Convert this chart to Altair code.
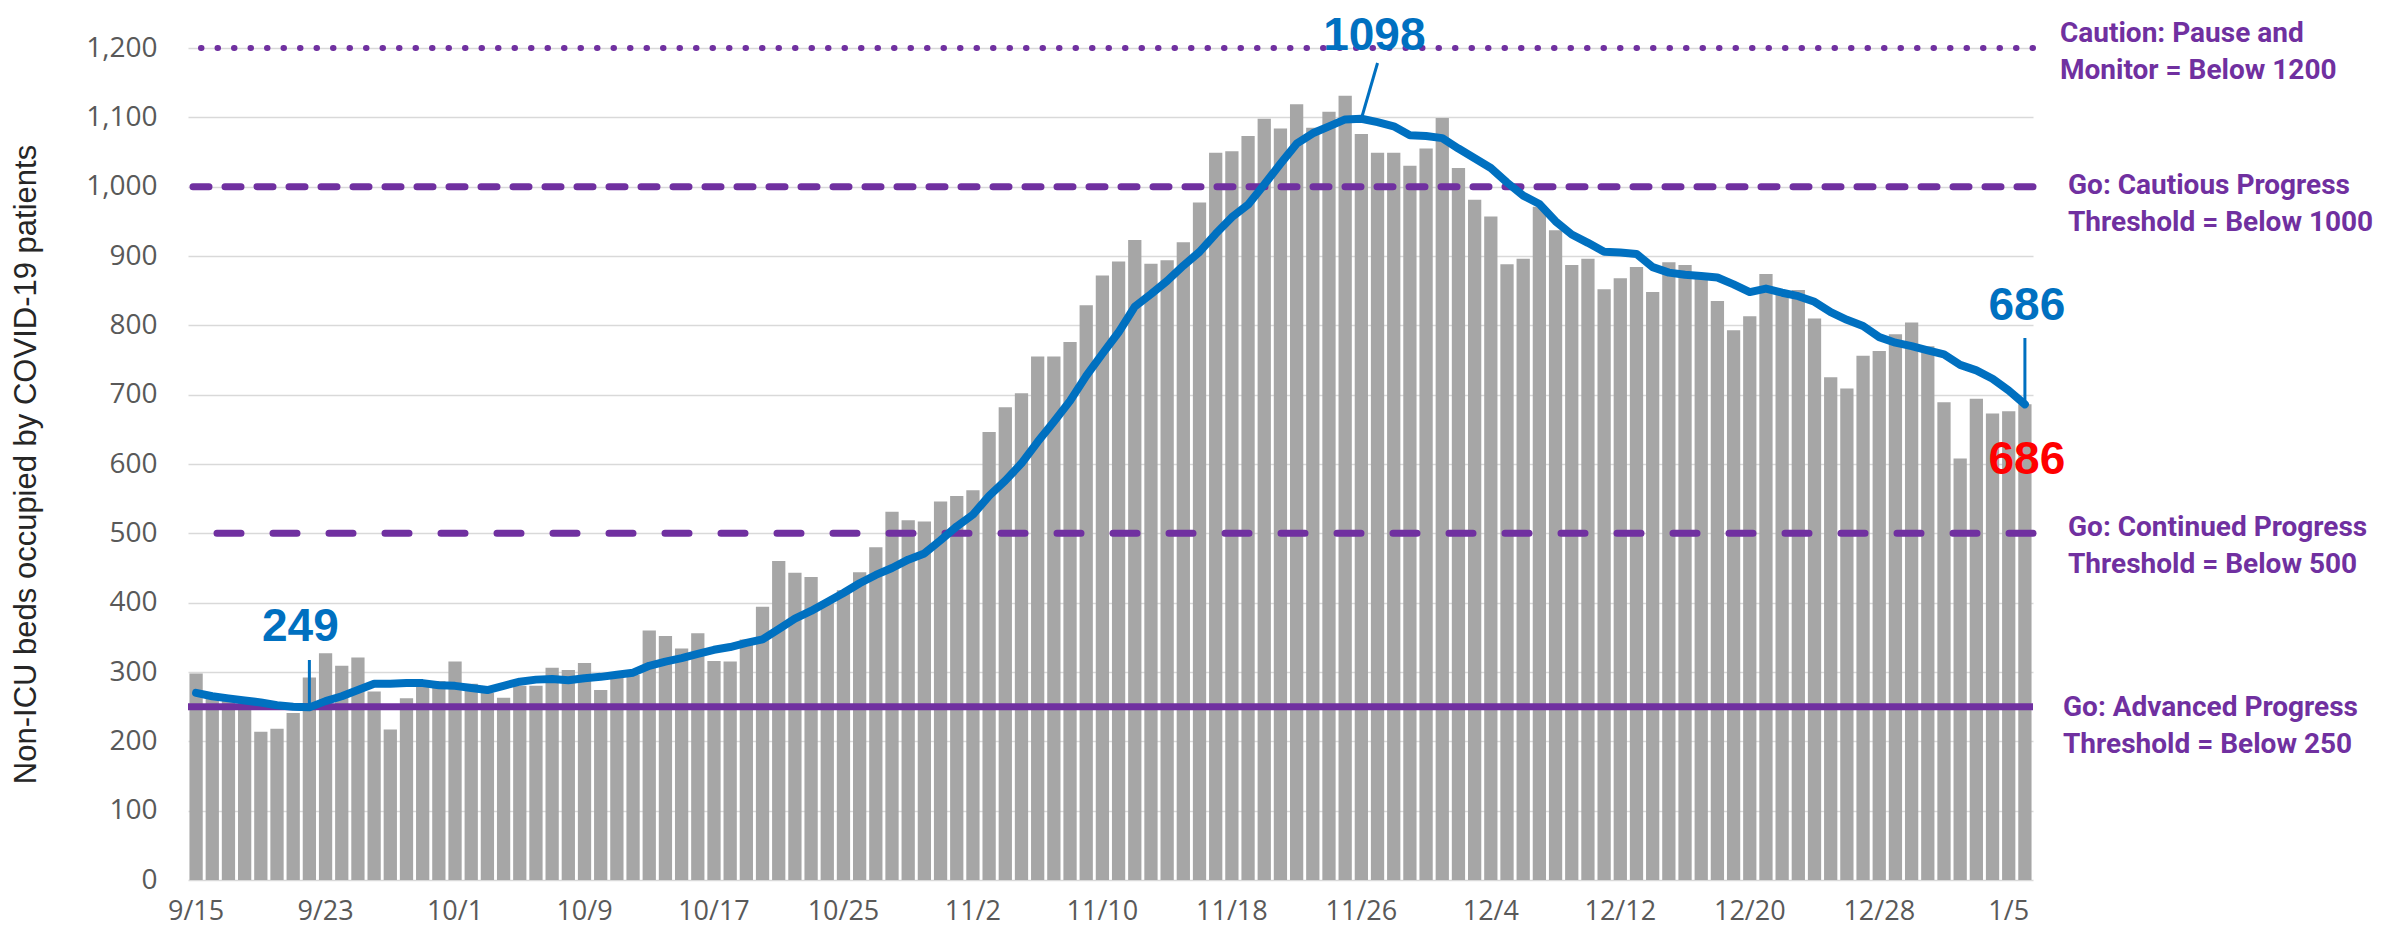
import altair as alt
import pandas as pd

# ---------------- data ----------------
START_DAY = "2020-09-15"
N_DAYS = 114
DATES = [f"{d.month}/{d.day}" for d in pd.date_range(START_DAY, periods=N_DAYS, freq="D")]

BEDS = [
    298, 265, 264, 256, 214, 218, 241, 292, 327, 309,
    321, 272, 217, 262, 286, 287, 315, 283, 270, 263,
    280, 280, 306, 303, 313, 274, 292, 296, 360, 352,
    334, 356, 316, 315, 347, 394, 460, 443, 437, 402,
    418, 444, 480, 531, 519, 517, 546, 554, 562, 646,
    682, 702, 755, 755, 776, 829, 872, 892, 923, 889,
    894, 920, 977, 1049, 1051, 1073, 1098, 1084, 1119, 1085,
    1108, 1131, 1076, 1049, 1049, 1030, 1055, 1099, 1027, 981,
    957, 888, 896, 971, 937, 887, 896, 852, 868, 884,
    848, 891, 887, 873, 835, 793, 813, 874, 849, 851,
    810, 725, 709, 756, 763, 787, 804, 770, 689, 608,
    694, 673, 676, 686,
]

AVG7 = [
    270, 265, 262, 259, 256, 252, 250, 249, 258, 265,
    274, 283, 283, 284, 284, 281, 280, 277, 274, 280,
    286, 289, 290, 288, 291, 293, 296, 299, 309, 315,
    320, 326, 332, 336, 342, 347, 362, 377, 388, 401,
    414, 428, 440, 450, 462, 471, 490, 510, 527, 554,
    576, 601, 632, 661, 691, 727, 759, 790, 827, 845,
    864, 886, 906, 932, 956, 974, 1003, 1033, 1062, 1077,
    1087, 1097, 1098, 1093, 1087, 1074, 1073, 1070, 1055, 1041,
    1027, 1006, 987, 975, 950, 931, 919, 906, 905, 903,
    884, 876, 873, 871, 869, 859, 848, 853, 847, 842,
    834, 819, 808, 799, 783, 775, 770, 764, 758, 743,
    735, 723, 706, 686,
]

X_TICKS = ["9/15", "9/23", "10/1", "10/9", "10/17", "10/25", "11/2", "11/10",
           "11/18", "11/26", "12/4", "12/12", "12/20", "12/28", "1/5"]
Y_TICKS = [0, 100, 200, 300, 400, 500, 600, 700, 800, 900, 1000, 1100, 1200]

THRESHOLDS = [1200, 1000, 500, 250]
THRESHOLD_TEXT = [
    "Caution: Pause and\nMonitor = Below 1200",
    "Go: Cautious Progress\nThreshold = Below 1000",
    "Go: Continued Progress\nThreshold = Below 500",
    "Go: Advanced Progress\nThreshold = Below 250",
]

Y_TITLE = "Non-ICU beds occupied by COVID-19 patients"

PEAK_DAY = "11/26"
PEAK_NEXT = "11/27"
LOW_DAY = "9/22"
LAST_DAY = "1/6"

# ---------------- styles ----------------
PURPLE = "#7030A0"
BLUE = "#0070C0"
GRAY = "#A6A6A6"
GRID = "#D9D9D9"

df = pd.DataFrame({"date": DATES, "beds": BEDS, "avg": AVG7})
thr = pd.DataFrame({"value": THRESHOLDS, "text": THRESHOLD_TEXT})

XS = alt.Scale(domain=DATES, paddingInner=0.18, paddingOuter=0.09)
YS = alt.Scale(domain=[0, 1200], nice=False)

X_AXIS = alt.Axis(
    values=X_TICKS, labelAngle=0, ticks=False, domain=False, grid=False,
    labelFont="Open Sans", labelFontSize=27, labelColor="#595959",
    labelPadding=18, title="",
)
Y_AXIS = alt.Axis(
    values=Y_TICKS, format=",.0f", ticks=False, domain=False, grid=True,
    gridColor=GRID, gridWidth=1.5,
    labelFont="Open Sans", labelFontSize=28, labelColor="#595959",
    labelPadding=31,
    title=Y_TITLE,
    titleFont="Liberation Sans Narrow, Arial Narrow, Liberation Sans, sans-serif",
    titleFontSize=31, titleFontWeight="normal", titleColor="#262626",
    titleAngle=270, titleX=-162, titleY=416,
    titleAlign="center", titleBaseline="middle",
)


def xenc():
    return alt.X("date:N", scale=XS, axis=X_AXIS)


def yenc(field):
    return alt.Y(field, scale=YS, axis=Y_AXIS)


base = alt.Chart(df)

bars = base.mark_bar(color=GRAY).encode(x=xenc(), y=yenc("beds:Q"))

rule_styles = {
    1200: dict(strokeWidth=6, strokeDash=[0.5, 16], strokeCap="round"),
    1000: dict(strokeWidth=7, strokeDash=[16, 16], strokeCap="round"),
    500: dict(strokeWidth=7, strokeDash=[24, 32], strokeCap="round"),
    250: dict(strokeWidth=7),
}
text_dy = {1200: -14, 1000: -1, 500: -5, 250: 1}
text_x = {1200: 1872, 1000: 1880, 500: 1880, 250: 1875}

thr_layers = []
ann_layers = []
for v in THRESHOLDS:
    sub = alt.Chart(thr).transform_filter(alt.datum.value == v)
    thr_layers.append(
        sub.mark_rule(color=PURPLE, **rule_styles[v]).encode(y=yenc("value:Q"))
    )
    ann_layers.append(
        sub.mark_text(
            align="left", baseline="middle", font="Roboto", fontSize=28,
            fontWeight="bold", color=PURPLE, lineBreak="\n", lineHeight=37,
            dy=text_dy[v],
        ).encode(x=alt.value(text_x[v]), y=yenc("value:Q"), text="text:N")
    )

line = base.mark_line(
    color=BLUE, strokeWidth=8, strokeJoin="round", strokeCap="round"
).encode(x=xenc(), y=yenc("avg:Q"))

peak = base.transform_filter(alt.datum.date == PEAK_DAY)
low = base.transform_filter(alt.datum.date == LOW_DAY)
last = base.transform_filter(alt.datum.date == LAST_DAY)

big = dict(font="Liberation Sans", fontSize=46, fontWeight="bold",
           align="center", baseline="middle")

# pointer tops are given in pixels from the plot's top edge
peak_ptr = peak.mark_rule(color=BLUE, strokeWidth=3).encode(
    x=xenc(), x2=alt.X2Datum(PEAK_NEXT), y=yenc("avg:Q"), y2=alt.value(15)
)
peak_txt = peak.mark_text(color=BLUE, dx=13, dy=-83, **big).encode(
    x=xenc(), y=yenc("avg:Q"), text="avg:Q"
)
low_ptr = low.mark_rule(color=BLUE, strokeWidth=3).encode(
    x=xenc(), y=yenc("avg:Q"), y2=alt.value(612)
)
low_txt = low.mark_text(color=BLUE, dx=-9, dy=-80, **big).encode(
    x=xenc(), y=yenc("avg:Q"), text="avg:Q"
)
last_ptr = last.mark_rule(color=BLUE, strokeWidth=3).encode(
    x=xenc(), y=yenc("avg:Q"), y2=alt.value(290)
)
last_txt = last.mark_text(color=BLUE, dx=2, dy=-98, **big).encode(
    x=xenc(), y=yenc("avg:Q"), text="avg:Q"
)
last_bar_txt = last.mark_text(color="#FF0000", dx=2, dy=56, **big).encode(
    x=xenc(), y=yenc("beds:Q"), text="beds:Q"
)

chart = alt.layer(
    bars, *thr_layers, line,
    peak_ptr, low_ptr, last_ptr,
    peak_txt, low_txt, last_txt, last_bar_txt,
    *ann_layers,
).properties(
    width=1845,
    height=832,
    autosize=alt.AutoSizeParams(type="none"),
    padding={"left": 180, "top": 40, "right": 348, "bottom": 48},
).configure_view(strokeOpacity=0)

chart.save("out.html", embed_options={"renderer": "svg", "actions": False})
